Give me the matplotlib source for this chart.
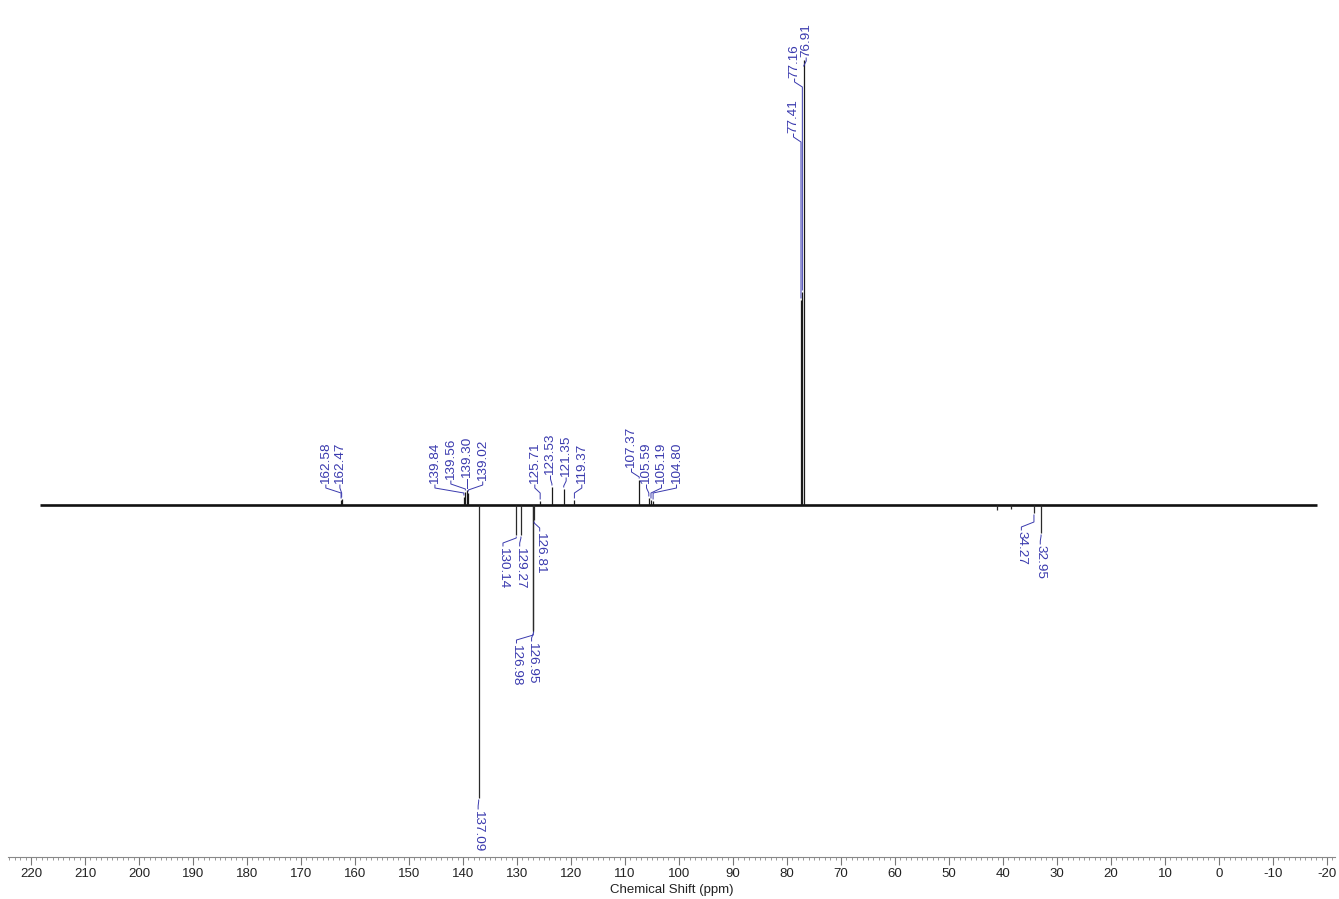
import matplotlib
matplotlib.use("Agg")
import matplotlib.pyplot as plt
from matplotlib.ticker import MultipleLocator

plt.rcParams["font.family"] = ["Liberation Sans", "DejaVu Sans"]
plt.rcParams["axes.unicode_minus"] = False

# acquired window (ppm)
spec_start, spec_end = 218.3, -18.1

# lines pointing up: shift (ppm) and intensity (a.u.)
up_ppm = [162.58, 162.47, 139.84, 139.56, 139.30, 139.02, 125.71, 123.53,
          121.35, 119.37, 107.37, 105.59, 105.19, 104.80, 77.41, 77.16, 76.91]
up_int = [5, 6, 8, 13, 15, 12, 4, 18, 16, 5, 25, 7, 5, 4, 205, 213, 445]

# lines pointing down
down_ppm = [137.09, 130.14, 129.27, 126.98, 126.95, 126.81, 41.2, 38.5, 34.27, 32.95]
down_int = [-293, -30, -30, -127, -125, -15, -5, -4, -8, -28]

# peak-pick annotations, grouped as they are stacked
up_groups = [
    [162.58, 162.47],
    [139.84, 139.56, 139.30, 139.02],
    [125.71, 123.53, 121.35, 119.37],
    [107.37, 105.59, 105.19, 104.80],
    [77.41, 77.16, 76.91],
]
down_groups = [
    [137.09],
    [130.14, 129.27],
    [126.98, 126.95],
    [126.81],
    [34.27, 32.95],
]

LABEL_COLOR = "#3a3aae"

# label placement: first label position (ppm), spacing (ppm or per-label
# offsets), fixed label heights for the stacked solvent triplet
up_layout = [
    (165.4, 2.6, None),
    (145.2, 2.95, None),
    (126.7, 2.9, None),
    (108.8, 2.78, None),
    (78.8, [0, 0.2, 2.35], [372, 427, 448]),
]
down_layout = [
    (137.2, 0, None),
    (132.6, 3.1, None),
    (130.1, 2.8, None),
    (125.8, 0, None),
    (36.6, 3.5, None),
]

fig = plt.figure(figsize=(13.39, 8.99), dpi=100)
ax = fig.add_axes([8 / 1339, 42 / 899, 1327 / 1339, 857 / 899])
ax.set_xlim(224.26, -21.48)
ax.set_ylim(-352, 505)

ax.hlines(0, spec_end, spec_start, color="#111111", lw=1.9, zorder=2)
ax.vlines(up_ppm, 0, up_int, color="#1a1a1a", lw=0.9, zorder=3)
ax.vlines(down_ppm, down_int, 0, color="#2a2a2a", lw=0.9, zorder=3)

intensity = dict(zip(up_ppm + down_ppm, up_int + down_int))


def annotate(groups, layout, up):
    sign = 1 if up else -1
    for group, (x0, step, levels) in zip(groups, layout):
        for i, ppm in enumerate(group):
            lx = x0 - (step[i] if isinstance(step, list) else i * step)
            h = abs(intensity[ppm])
            lev = levels[i] if levels else max(h + 12, 21 if up else 26)
            end = max(h, 3) + 2
            if end > lev - 9:
                end = lev - 9
            ys = [lev - 1, lev - 4, lev - 9, end]
            ax.plot([lx, lx, ppm, ppm], [sign * y for y in ys],
                    color=LABEL_COLOR, lw=0.7, zorder=4)
            ax.text(lx, sign * lev, f"{ppm:.2f}", rotation=90 if up else 270,
                    ha="center", va="bottom" if up else "top",
                    fontsize=9.7, color=LABEL_COLOR)


annotate(up_groups, up_layout, True)
annotate(down_groups, down_layout, False)

ax.xaxis.set_major_locator(MultipleLocator(10))
ax.xaxis.set_minor_locator(MultipleLocator(1))
ax.tick_params(axis="x", which="major", length=5.5, width=0.8, color="#777777",
               labelsize=9.5, labelcolor="#222222", pad=2.5)
ax.tick_params(axis="x", which="minor", length=2.5, width=0.6, color="#888888")
ax.tick_params(axis="y", left=False, labelleft=False)
for side in ("top", "left", "right"):
    ax.spines[side].set_visible(False)
ax.spines["bottom"].set_color("#888888")
ax.spines["bottom"].set_linewidth(0.8)
ax.set_xlabel("Chemical Shift (ppm)", fontsize=9.5, color="#222222", labelpad=3)

fig.savefig("out.png", dpi=100)
